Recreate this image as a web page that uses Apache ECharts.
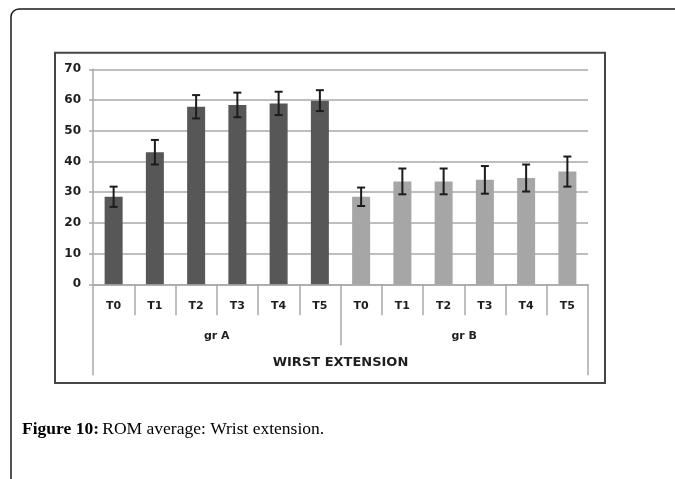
<!DOCTYPE html>
<html>
<head>
<meta charset="utf-8">
<script src="https://cdn.jsdelivr.net/npm/echarts@6/dist/echarts.min.js"></script>
<style>
  html, body { margin: 0; padding: 0; background: #fff; }
  #chart { width: 675px; height: 479px; }
</style>
</head>
<body>
<div id="chart"></div>
<script>
// Time points measured in each group
const timePoints = ['T0', 'T1', 'T2', 'T3', 'T4', 'T5'];
const groups = ['gr A', 'gr B'];
const movement = ['WIRST EXTENSION'];

// Mean range of motion (degrees) and its deviation per time point
const meanA = [28.5, 43.0, 57.8, 58.4, 58.9, 59.8];
const errA  = [3.3, 4.0, 3.8, 4.0, 3.8, 3.4];
const meanB = [28.5, 33.5, 33.5, 34.0, 34.6, 36.7];
const errB  = [3.0, 4.2, 4.2, 4.5, 4.4, 4.9];

// Y-axis tick settings
const yMin = 0, yMax = 70, yStep = 10;

const categories = timePoints.concat(timePoints);
const seriesA = meanA.concat(timePoints.map(() => '-'));
const seriesB = timePoints.map(() => '-').concat(meanB);
const errorData = meanA.map((v, i) => [i, v - errA[i], v + errA[i]])
  .concat(meanB.map((v, i) => [i + timePoints.length, v - errB[i], v + errB[i]]));

const lineGray = '#a9a9a9';
const labelFont = { fontFamily: 'DejaVu Sans', fontWeight: 'bold', color: '#1e1e1e' };

const chart = echarts.init(document.getElementById('chart'), null, { renderer: 'canvas' });

chart.setOption({
  animation: false,
  backgroundColor: '#fff',
  grid: { left: 93, right: 87, top: 69.3, bottom: 194.7, containLabel: false },
  xAxis: [
    {
      // time points
      type: 'category',
      data: categories,
      position: 'bottom',
      boundaryGap: true,
      axisLine: { show: true, lineStyle: { color: lineGray, width: 1.5 } },
      axisTick: { show: true, interval: 0, length: 31, lineStyle: { color: lineGray, width: 1.5 } },
      axisLabel: Object.assign({ interval: 0, margin: 16, fontSize: 11 }, labelFont),
      splitLine: { show: false }
    },
    {
      // groups
      type: 'category',
      data: groups,
      position: 'bottom',
      boundaryGap: true,
      axisLine: { show: false },
      axisTick: { show: true, interval: 0, length: 61, lineStyle: { color: lineGray, width: 1.5 } },
      axisLabel: Object.assign({ interval: 0, margin: 46, fontSize: 11 }, labelFont),
      splitLine: { show: false }
    },
    {
      // movement
      type: 'category',
      data: movement,
      position: 'bottom',
      boundaryGap: true,
      axisLine: { show: false },
      axisTick: { show: true, interval: 0, length: 91, lineStyle: { color: lineGray, width: 1.5 } },
      axisLabel: Object.assign({ interval: 0, margin: 72, fontSize: 13 }, labelFont),
      splitLine: { show: false }
    }
  ],
  yAxis: {
    type: 'value',
    min: yMin,
    max: yMax,
    interval: yStep,
    axisLine: { show: true, lineStyle: { color: lineGray, width: 1.5 } },
    axisTick: { show: true, length: 4, lineStyle: { color: lineGray, width: 1.5 } },
    axisLabel: Object.assign({ margin: 12, fontSize: 12 }, labelFont),
    splitLine: { show: true, lineStyle: { color: lineGray, width: 1.5 } }
  },
  series: [
    {
      name: 'gr A',
      type: 'bar',
      data: seriesA,
      barWidth: 18,
      barGap: '-100%',
      itemStyle: { color: '#575757' }
    },
    {
      name: 'gr B',
      type: 'bar',
      data: seriesB,
      barWidth: 18,
      barGap: '-100%',
      itemStyle: { color: '#a6a6a6' }
    },
    {
      name: 'deviation',
      type: 'custom',
      data: errorData,
      z: 5,
      renderItem: function (params, api) {
        const x = api.value(0);
        const lo = api.coord([x, api.value(1)]);
        const hi = api.coord([x, api.value(2)]);
        const half = 4;
        const style = { stroke: '#1c1c1c', lineWidth: 2 };
        return {
          type: 'group',
          children: [
            { type: 'line', shape: { x1: hi[0], y1: hi[1], x2: lo[0], y2: lo[1] }, style: style },
            { type: 'line', shape: { x1: hi[0] - half, y1: hi[1], x2: hi[0] + half, y2: hi[1] }, style: style },
            { type: 'line', shape: { x1: lo[0] - half, y1: lo[1], x2: lo[0] + half, y2: lo[1] }, style: style }
          ]
        };
      }
    }
  ],
  graphic: [
    {
      // page frame with a rounded corner
      type: 'rect',
      shape: { x: 11, y: 9, width: 720, height: 520, r: 8 },
      style: { fill: 'none', stroke: '#1a1a1a', lineWidth: 1.5 },
      silent: true
    },
    {
      // chart border
      type: 'rect',
      shape: { x: 55, y: 52.7, width: 550, height: 330.3 },
      style: { fill: 'none', stroke: '#454545', lineWidth: 2 },
      silent: true,
      z: -1
    },
    {
      type: 'text',
      left: 22,
      top: 420,
      style: {
        rich: {
          b: { fontFamily: 'Liberation Serif', fontWeight: 'bold', fontSize: 17.5, fill: '#000' },
          n: { fontFamily: 'Liberation Serif', fontSize: 17.5, fill: '#000' }
        },
        text: '{b|Figure 10:} {n|ROM average: Wrist extension.}'
      }
    }
  ]
});
</script>
</body>
</html>
